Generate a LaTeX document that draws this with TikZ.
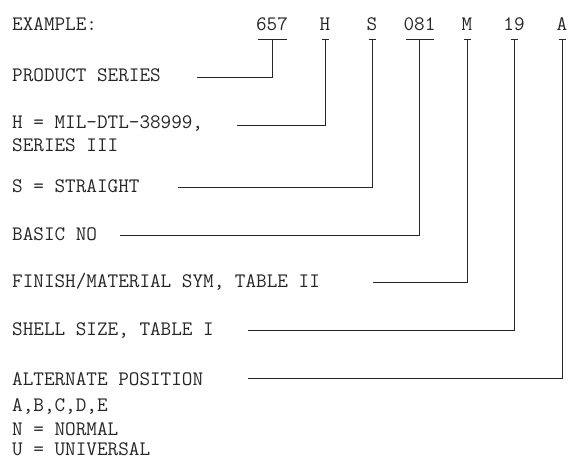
\documentclass[tikz,border=0pt]{standalone}
\usetikzlibrary{positioning}

\begin{document}
\begin{tikzpicture}[
  x=1pt, y=-1pt,
  font=\fontsize{20.6}{24}\selectfont\ttfamily,
  txt/.style={anchor=base west, inner sep=0pt, text=black!85},
  code/.style={anchor=base, inner sep=0pt, text=black!85},
  lead/.style={draw=black!85, line width=0.9pt},
]
\useasboundingbox (0,0) rectangle (571,466);

%% ---- the example part number, each field underlined ----
\node[txt] (ex) at (12,30) {EXAMPLE:};
\foreach \nm/\cx/\hw/\tx in {c657/272/14.5/657, cH/325/3.5/H, cS/372/3.5/S,
    c081/419.5/14/081, cM/467/3.5/M, c19/514/3.5/19, cA/562/3.5/A} {
  \node[code] (\nm) at (\cx,30) {\tx};
  \coordinate (\nm b) at (\cx,39);
  \draw[lead] ([xshift=-\hw pt]\nm b) -- ([xshift=\hw pt]\nm b);
}

%% ---- the field meanings, each led back to its field ----
\foreach \nm/\by/\ly/\lx/\to/\tx in {
    lser/81/77/197/c657/{PRODUCT SERIES},
    lmil/128/125/237/cH/{H = MIL-DTL-38999,},
    lstr/192/187/178/cS/{S = STRAIGHT},
    lbas/240/235/120/c081/{BASIC NO},
    lfin/287/282/373/cM/{FINISH/MATERIAL SYM, TABLE II},
    lshl/335/330/248/c19/{SHELL SIZE, TABLE I},
    lalt/385/378/248/cA/{ALTERNATE POSITION}} {
  \node[txt] (\nm) at (12,\by) {\tx};
  \coordinate (\nm s) at (\lx,\ly);
  \draw[lead] (\nm s) -| (\to b);
}
\node[txt] (lmil2) at (12,151) {SERIES III};
\node[txt] (lpos) at (12,411) {A,B,C,D,E};
\node[txt] (lnor) at (12,435) {N = NORMAL};
\node[txt] (luni) at (12,455) {U = UNIVERSAL};
\end{tikzpicture}
\end{document}
